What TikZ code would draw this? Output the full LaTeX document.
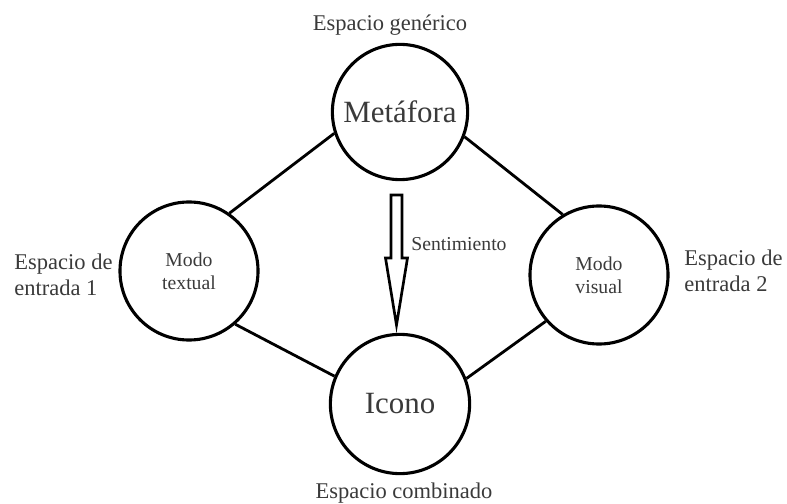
\documentclass[tikz,border=0pt]{standalone}
\usepackage{fontspec}
\setmainfont{Liberation Serif}
\newfontfamily\timesfont{Liberation Serif}
\usetikzlibrary{positioning}
\definecolor{cink}{HTML}{3A3A3A}
\tikzset{
  every picture/.style={line width=2pt},
  space/.style={draw, circle, minimum size=#1, inner sep=0pt, align=center, line width=2.2pt, text=cink},
  space/.default=3.45cm,
  big/.style={font=\timesfont\fontsize{22}{26}\selectfont},
  small/.style={font=\timesfont\fontsize{14}{16.3}\selectfont},
  link/.style={draw, line width=2pt},
  label/.style={font=\timesfont\fontsize{16}{18.6}\selectfont, text=cink, align=left, inner sep=0pt},
  feel/.style={draw, line width=1.9pt, line join=miter, fill=white},
}

\begin{document}
\begin{tikzpicture}[x=0.025cm, y=-0.025cm]
  \useasboundingbox (0,0) rectangle (787,504);
  % the four spaces
  \node[space=3.38cm, big] (meta) at (400,112) {Metáfora};
  \node[space, small] (txt) at (189,271) {Modo\\textual};
  \node[space, small] (vis) at (599,275) {Modo\\visual};
  \node[space=3.48cm, big] (icon) at (400,404) {Icono};
  % connections
  \draw[link] (meta.198) -- (txt.55);
  \draw[link] (meta.-21) -- (vis.121);
  \draw[link] (txt.-49) -- (icon.157);
  \draw[link] (vis.221) -- (icon.21);
  % hollow arrow
  \draw[feel] (391,195) -- (402,195) -- (402,258) -- (407.5,258) -- (396.5,325)
    -- (385.5,258) -- (391,258) -- cycle;
  \node[label, font=\timesfont\fontsize{14}{16.3}\selectfont, anchor=base west] (sent) at (410,250) {Sentimiento};
  % space names
  \node[label, anchor=base] (gen) at (390,31) {Espacio genérico};
  \node[label, anchor=north west] (in1) at (13,252) {Espacio de\\entrada 1};
  \node[label, anchor=north west] (in2) at (683,248) {Espacio de\\entrada 2};
  \node[label, anchor=base] (comb) at (404,498) {Espacio combinado};
\end{tikzpicture}
\end{document}
